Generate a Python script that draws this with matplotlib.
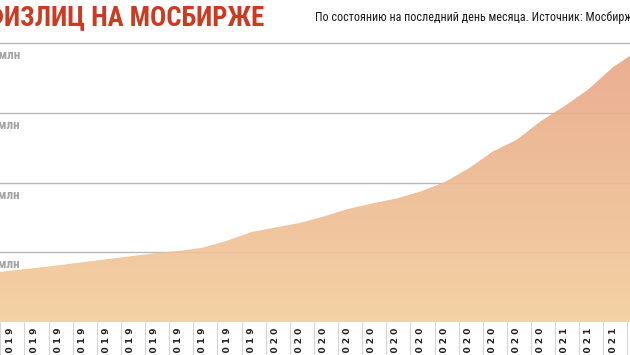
import matplotlib
import numpy as np
from matplotlib import font_manager

matplotlib.use("Agg")
import matplotlib.pyplot as plt  # noqa: E402
from matplotlib.colors import LinearSegmentedColormap  # noqa: E402
from matplotlib.patches import PathPatch  # noqa: E402
from matplotlib.transforms import blended_transform_factory  # noqa: E402

# month-end number of individual investors on Moscow Exchange, mln
months = ["01.2019", "02.2019", "03.2019", "04.2019", "05.2019", "06.2019",
          "07.2019", "08.2019", "09.2019", "10.2019", "11.2019", "12.2019",
          "01.2020", "02.2020", "03.2020", "04.2020", "05.2020", "06.2020",
          "07.2020", "08.2020", "09.2020", "10.2020", "11.2020", "12.2020",
          "01.2021", "02.2021", "03.2021", "04.2021"]
investors = [2.08, 2.21, 2.32, 2.44, 2.57, 2.70, 2.83, 2.96, 3.06, 3.20,
             3.50, 3.87, 4.07, 4.26, 4.54, 4.86, 5.10, 5.31, 5.61, 6.01,
             6.60, 7.33, 7.84, 8.64, 9.30, 10.03, 10.97, 11.66]
grid_values = [3, 6, 9, 12]
grid_labels = ["3 млн", "6 млн", "9 млн", "12 млн"]

TITLE = "ЧИСЛО ФИЗЛИЦ НА МОСБИРЖЕ"
NOTE = "По состоянию на последний день месяца. Источник: Мосбиржа"

names = {f.name for f in font_manager.fontManager.ttflist}
NARROW = next((f for f in ["Roboto Condensed", "Liberation Sans Narrow",
                           "DejaVu Sans Condensed", "Open Sans Condensed",
                           "Noto Sans Condensed", "Roboto"] if f in names),
              "DejaVu Sans")

W, H = 630, 355
fig = plt.figure(figsize=(W / 100, H / 100), dpi=100)
step = 24.12
x0 = -14.1
unit = 69.7 / 3
n = len(months) - 1
ymax = 12.5
ax = fig.add_axes([x0 / W, 33 / H, n * step / W, ymax * unit / H])
ax.set_xlim(0, n)
ax.set_ylim(0, ymax)
for s in ax.spines.values():
    s.set_visible(False)

for v in grid_values:
    ax.axhline(v, color="#B8B8B8", lw=1.0, zorder=0.5)

x = np.arange(len(months))
cmap = LinearSegmentedColormap.from_list("area", ["#F3CD9B", "#E8A484"])
grad = np.linspace(0, 1, 256).reshape(-1, 1)
im = ax.imshow(grad, extent=[0, n, 0, 12], origin="lower", aspect="auto",
               cmap=cmap, alpha=0.9, zorder=1)
poly = ax.fill_between(x, investors, color="none", lw=0)
clip = PathPatch(poly.get_paths()[0], transform=ax.transData,
                 facecolor="none", edgecolor="none")
ax.add_patch(clip)
im.set_clip_path(clip)

lab_tr = blended_transform_factory(fig.transFigure, ax.transData)
for v, lab in zip(grid_values, grid_labels):
    ax.text(20 / W, v - 6 / unit, lab, transform=lab_tr, ha="right", va="top",
            fontsize=9.5, color="#A3A3A3", fontweight="bold", family=NARROW)

ax.set_xticks(x)
ax.set_xticklabels([" ".join(m) for m in months], rotation=90,
                   fontsize=6.5, fontweight="bold", color="#222222")
ax.tick_params(axis="x", length=0, pad=4)
ax.set_yticks([])

sep_tr = blended_transform_factory(ax.transData, ax.transAxes)
bottom = -33 / (ymax * unit)
ax.vlines(x[:-1] + 0.6, bottom, 0, transform=sep_tr, color="#D5D5D5",
          lw=0.8, clip_on=False)

fig.text(264 / W, 1 - 25 / H, TITLE, ha="right", va="baseline",
         fontsize=19.3, fontweight="bold", color="#CC3A22", family=NARROW)
fig.text(315 / W, 1 - 21 / H, NOTE, ha="left", va="baseline",
         fontsize=8.7, color="#1A1A1A", family=NARROW)

fig.savefig("out.png", dpi=100)
